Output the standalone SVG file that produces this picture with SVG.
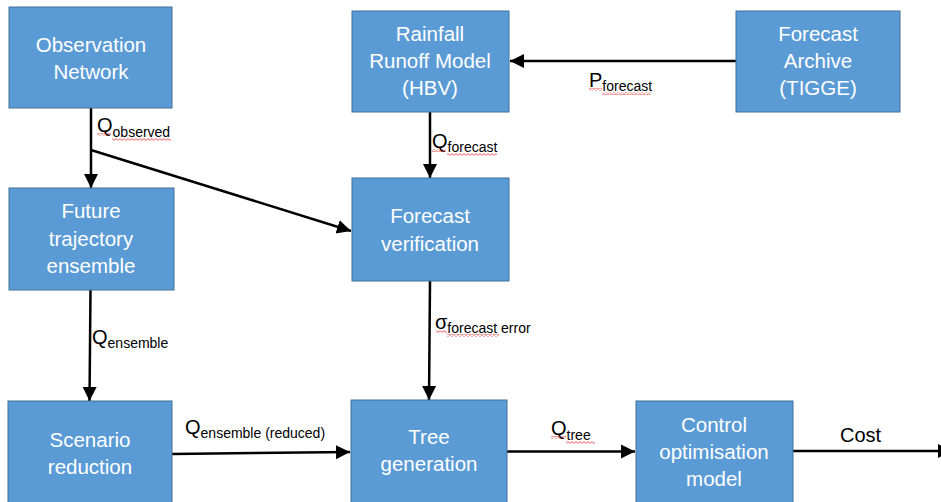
<svg xmlns="http://www.w3.org/2000/svg" width="941" height="502" viewBox="0 0 941 502">
  <style>
    .box { fill: #5B9BD5; stroke: #41719C; stroke-width: 1; }
    .bt { font-family: "Liberation Sans", Arial, sans-serif; font-size: 20.5px; fill: #ffffff; text-anchor: middle; }
    .lbl { font-family: "Liberation Sans", Arial, sans-serif; font-size: 20px; fill: #000000; }
    .sub { font-size: 14px; }
    .edge { stroke: #000000; stroke-width: 2.5; fill: none; marker-end: url(#arrow); }
    .squig { fill: url(#wave); }
  </style>
  <defs>
    <marker id="arrow" markerUnits="userSpaceOnUse" markerWidth="16" markerHeight="16" viewBox="0 0 16 16" refX="14" refY="8" orient="auto">
      <path d="M0,1 L14,8 L0,15 Z" fill="#000000"/>
    </marker>
    <pattern id="wave" width="4" height="3" patternUnits="userSpaceOnUse">
      <path d="M0,0.6 L2,2.4 L4,0.6" stroke="#e03030" stroke-width="0.8" fill="none"/>
    </pattern>
  </defs>

  <rect width="941" height="502" fill="#ffffff"/>

  <!-- connectors -->
  <g id="connectors">
    <line class="edge" x1="91" y1="108" x2="91" y2="188"/>
    <line class="edge" x1="91" y1="150" x2="351" y2="231"/>
    <line class="edge" x1="430" y1="112" x2="430" y2="178"/>
    <line class="edge" x1="736" y1="61" x2="510" y2="61"/>
    <line class="edge" x1="90.5" y1="290" x2="89.5" y2="401"/>
    <line class="edge" x1="430" y1="281" x2="429" y2="400"/>
    <line class="edge" x1="172" y1="454" x2="350" y2="452"/>
    <line class="edge" x1="507" y1="451.5" x2="635" y2="451.5"/>
    <line class="edge" x1="793" y1="451" x2="952" y2="451"/>
  </g>

  <!-- connector labels -->
  <g id="labels">
    <text class="lbl" x="97" y="132">Q<tspan class="sub" dy="5">observed</tspan></text>
    <rect class="squig" x="97" y="133" width="14" height="3"/>
    <rect class="squig" x="112" y="138" width="59" height="3"/>

    <text class="lbl" x="432" y="148">Q<tspan class="sub" dy="4">forecast</tspan></text>
    <rect class="squig" x="432" y="149" width="14" height="3"/>
    <rect class="squig" x="447" y="153" width="50" height="3"/>

    <text class="lbl" x="589" y="87">P<tspan class="sub" dy="4">forecast</tspan></text>
    <rect class="squig" x="589" y="88" width="13" height="3"/>
    <rect class="squig" x="602" y="92" width="49" height="3"/>

    <text class="lbl" x="92" y="344">Q<tspan class="sub" dy="4">ensemble</tspan></text>

    <text class="lbl" x="435" y="329">σ<tspan class="sub" dy="4">forecast error</tspan></text>
    <rect class="squig" x="436" y="330" width="11" height="3"/>
    <rect class="squig" x="447" y="334" width="52" height="3"/>

    <text class="lbl" x="185" y="434">Q<tspan class="sub" dy="4">ensemble (reduced)</tspan></text>

    <text class="lbl" x="551" y="435">Q<tspan class="sub" dy="5">tree</tspan></text>
    <rect class="squig" x="551" y="436" width="15" height="3"/>
    <rect class="squig" x="566" y="441" width="29" height="3"/>

    <text class="lbl" x="840" y="442" font-size="19">Cost</text>
  </g>

  <!-- nodes -->
  <g id="observation-network">
    <rect class="box" x="9" y="7" width="163" height="101"/>
    <text class="bt" x="91" y="52">Observation</text>
    <text class="bt" x="91" y="79">Network</text>
  </g>

  <g id="rainfall-runoff-model">
    <rect class="box" x="352" y="11" width="157" height="101"/>
    <text class="bt" x="430" y="41">Rainfall</text>
    <text class="bt" x="430" y="68">Runoff Model</text>
    <text class="bt" x="430" y="95">(HBV)</text>
  </g>

  <g id="forecast-archive">
    <rect class="box" x="736" y="11" width="164" height="101"/>
    <text class="bt" x="818" y="41">Forecast</text>
    <text class="bt" x="818" y="68">Archive</text>
    <text class="bt" x="818" y="95">(TIGGE)</text>
  </g>

  <g id="future-trajectory-ensemble">
    <rect class="box" x="9" y="188" width="165" height="102"/>
    <text class="bt" x="91" y="218">Future</text>
    <text class="bt" x="91" y="246">trajectory</text>
    <text class="bt" x="91" y="273">ensemble</text>
  </g>

  <g id="forecast-verification">
    <rect class="box" x="352" y="178" width="157" height="103"/>
    <text class="bt" x="430" y="223">Forecast</text>
    <text class="bt" x="430" y="251">verification</text>
  </g>

  <g id="scenario-reduction">
    <rect class="box" x="8" y="401" width="164" height="110"/>
    <text class="bt" x="90" y="447">Scenario</text>
    <text class="bt" x="90" y="474">reduction</text>
  </g>

  <g id="tree-generation">
    <rect class="box" x="351" y="400" width="156" height="111"/>
    <text class="bt" x="429" y="444">Tree</text>
    <text class="bt" x="429" y="471">generation</text>
  </g>

  <g id="control-optimisation-model">
    <rect class="box" x="636" y="401" width="157" height="110"/>
    <text class="bt" x="714" y="432">Control</text>
    <text class="bt" x="714" y="459">optimisation</text>
    <text class="bt" x="714" y="486">model</text>
  </g>
</svg>
